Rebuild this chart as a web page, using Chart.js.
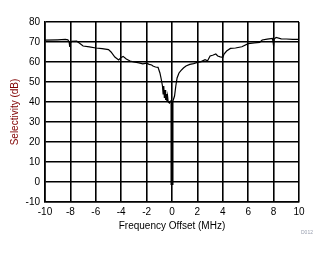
<!DOCTYPE html>
<html>
<head>
<meta charset="utf-8">
<script src="https://cdn.jsdelivr.net/npm/chart.js@4"></script>
<style>
  html, body { margin: 0; padding: 0; background: #fff; }
  #wrap { width: 328px; height: 254px; }
</style>
</head>
<body>
<div id="wrap"><canvas id="myChart" width="328" height="254"></canvas></div>
<script>
// frequency offset (MHz) and selectivity (dB)
const freqMHz = [-10, -9, -8.4, -8.2, -8.1, -8.05, -8, -7.9, -7.5, -7.3, -7, -6.5, -6, -5.5, -5, -4.8, -4.5, -4.2, -4,
  -3.85, -3.6, -3.3, -3, -2.6, -2.3, -2, -1.8, -1.6, -1.5, -1.3, -1.1, -0.95, -0.85, -0.75, -0.7, -0.65, -0.6, -0.55,
  -0.5, -0.45, -0.4, -0.35, -0.3, -0.2, -0.1, 0, 0.1, 0.2, 0.3, 0.4, 0.55, 0.7, 0.9, 1.1, 1.4, 1.7, 2, 2.3, 2.6, 2.8,
  3, 3.2, 3.45, 3.6, 3.8, 4, 4.1, 4.3, 4.6, 5, 5.5, 6, 6.5, 6.9, 7.1, 7.5, 7.9, 7.95, 8, 8.05, 8.2, 8.6, 9, 9.5, 10];
const selectivity = [70.9, 71.1, 71.3, 71.1, 70, 67.5, 69.5, 70.3, 70.4, 69.5, 68, 67.6, 67, 66.7, 66.2, 65, 62.5, 61, 62.3,
  62.8, 61.5, 60.5, 60, 59.6, 59.1, 59.4, 58.8, 58.5, 58, 57.5, 57.3, 54.5, 51.5, 48, 44, 48, 42, 46,
  41, 44, 40.5, 43, 40, 39.5, 40.5, 39.5, 41, 43, 48, 52, 54.5, 55.7, 57, 58, 58.8, 59.2, 59.8, 60.2, 61.2, 60.6,
  63, 63.4, 64, 63, 62.6, 62.3, 64, 65.5, 66.8, 67, 67.6, 69.2, 69.6, 69.8, 71, 71.4, 71.8, 70.5, 68, 71.5, 72.3, 71.6, 71.5, 71.3, 71.3];

// the deep notch at 0 MHz
const notchFreq = [0, 0];
const notchDb = [40, -1.5];

const xTicks = [-10, -8, -6, -4, -2, 0, 2, 4, 6, 8, 10];
const yTicks = [-10, 0, 10, 20, 30, 40, 50, 60, 70, 80];

const toPoints = (xs, ys) => xs.map((x, i) => ({ x: x, y: ys[i] }));

const fontFamily = '"Liberation Sans", Arial, sans-serif';

// small figure id in the corner
const figId = {
  id: 'figId',
  afterDraw(chart) {
    const ctx = chart.ctx;
    ctx.save();
    ctx.font = '5px ' + fontFamily;
    ctx.fillStyle = '#9aa0b0';
    ctx.textAlign = 'left';
    ctx.textBaseline = 'middle';
    ctx.fillText('D012', 301, 233);
    ctx.restore();
  }
};

new Chart(document.getElementById('myChart').getContext('2d'), {
  type: 'scatter',
  data: {
    datasets: [{
      data: toPoints(freqMHz, selectivity),
      showLine: true,
      borderColor: '#000',
      borderWidth: 1.2,
      pointRadius: 0,
      tension: 0
    }, {
      data: toPoints(notchFreq, notchDb),
      showLine: true,
      borderColor: '#000',
      borderWidth: 3,
      pointRadius: 0
    }]
  },
  options: {
    responsive: false,
    animation: false,
    layout: { padding: { left: 0, top: 22, right: 29, bottom: 20 } },
    plugins: { legend: { display: false }, tooltip: { enabled: false } },
    scales: {
      x: {
        type: 'linear',
        min: -10,
        max: 10,
        afterBuildTicks: (axis) => { axis.ticks = xTicks.map(v => ({ value: v })); },
        afterFit: (axis) => { axis.height = 32; },
        grid: { color: '#000', lineWidth: 1.6, drawTicks: false },
        border: { color: '#000', width: 1.6 },
        ticks: { color: '#000', font: { family: fontFamily, size: 10 }, padding: 4, maxRotation: 0 },
        title: { display: true, text: 'Frequency Offset (MHz)', color: '#000',
          font: { family: fontFamily, size: 10 }, padding: { top: 0, bottom: 2 } }
      },
      y: {
        type: 'linear',
        min: -10,
        max: 80,
        afterBuildTicks: (axis) => { axis.ticks = yTicks.map(v => ({ value: v })); },
        afterFit: (axis) => { axis.width = 45; },
        grid: { color: '#000', lineWidth: 1.6, drawTicks: false },
        border: { color: '#000', width: 1.6 },
        ticks: { color: '#000', font: { family: fontFamily, size: 10 }, padding: 5 },
        title: { display: true, text: 'Selectivity (dB)', color: '#800000',
          font: { family: fontFamily, size: 10 }, padding: { top: 9, bottom: 0 } }
      }
    }
  },
  plugins: [figId]
});
</script>
</body>
</html>
